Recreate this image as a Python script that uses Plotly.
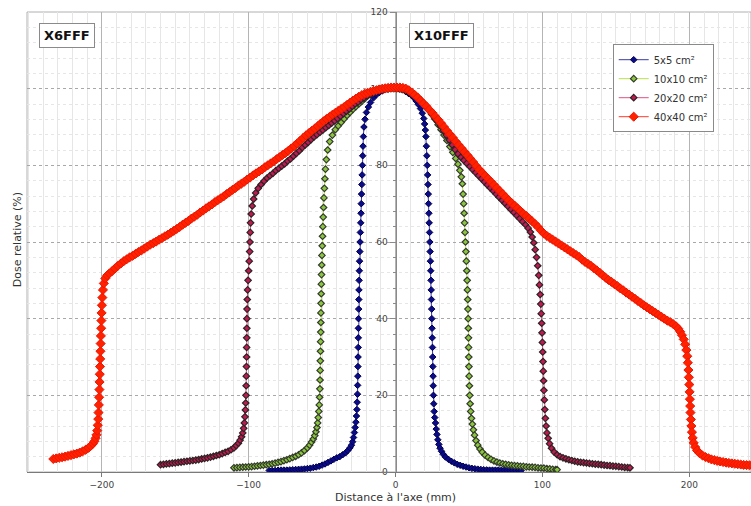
import plotly.graph_objects as go

# Off-axis dose profiles: (distance to axis in mm, relative dose in %)
PROFILE_5X5 = [
    (-86, 0.4), (-84, 0.4), (-82, 0.4), (-80, 0.45), (-78, 0.5), (-76, 0.5), (-74, 0.5), (-72, 0.55),
    (-70, 0.6), (-68, 0.65), (-66, 0.7), (-64, 0.75), (-62, 0.8), (-60, 0.9), (-58, 1.0), (-56, 1.15),
    (-54, 1.3), (-52, 1.5), (-50, 1.8), (-48, 2.1), (-46, 2.5), (-44, 2.9), (-42, 3.3), (-40, 3.7),
    (-38, 4.0), (-36, 4.5), (-34, 5.0), (-32.5, 5.6), (-31, 6.3), (-30, 7.0), (-29.2, 7.9), (-28.6, 9.0),
    (-28.0, 10.3), (-27.5, 11.6), (-27.0, 13.0), (-26.6, 14.6), (-26.3, 16.3), (-26.1, 18.2),
    (-25.9, 20.3), (-25.8, 22.6), (-25.7, 25), (-25.6, 27.5), (-25.5, 30), (-25.4, 32.5),
    (-25.35, 35), (-25.3, 37.5), (-25.2, 40), (-25.1, 42.5), (-25.0, 45), (-24.9, 47.5), (-24.8, 50),
    (-24.65, 52.5), (-24.5, 55), (-24.3, 57.5), (-24.15, 60), (-23.95, 62.5), (-23.7, 65),
    (-23.5, 67.5), (-23.35, 70), (-23.15, 72.5), (-22.95, 75), (-22.75, 77.5), (-22.55, 80),
    (-22.35, 82.5), (-22.15, 85), (-21.9, 87.5), (-21.5, 90), (-20.8, 92), (-19.8, 93.8),
    (-18.5, 95.2), (-17, 96.4), (-15, 97.6), (-13, 98.4), (-11, 99), (-9, 99.4), (-7, 99.7),
    (-5, 99.9), (-3, 100), (-1, 100), (1, 100), (3, 99.9), (5, 99.7), (7, 99.2), (9, 98.7),
    (11, 98.2), (12.5, 97.6), (14, 96.8), (15.5, 95.9), (17, 94.8), (18.2, 93.6), (19.2, 92.2),
    (19.8, 90.8), (20.3, 89.2), (20.7, 87.5), (21.0, 85), (21.3, 82.5), (21.6, 80), (21.85, 77.5),
    (22.1, 75), (22.3, 72.5), (22.5, 70), (22.7, 67.5), (22.9, 65), (23.15, 62.5), (23.35, 60),
    (23.55, 57.5), (23.75, 55), (23.95, 52.5), (24.15, 50), (24.3, 47.5), (24.45, 45), (24.6, 42.5),
    (24.7, 40), (24.85, 37.5), (25.0, 35), (25.15, 32.5), (25.3, 30), (25.4, 27.5), (25.55, 25),
    (25.65, 22.5), (25.8, 20), (26.0, 17.8), (26.3, 15.8), (26.7, 14.2), (27.2, 12.8), (27.7, 11.2),
    (28.2, 9.8), (28.8, 8.4), (29.5, 7.2), (30.3, 6.2), (31.3, 5.4), (32.5, 4.6), (34, 3.9),
    (36, 3.3), (38, 2.8), (40, 2.4), (42, 2.0), (44, 1.75), (46, 1.5), (48, 1.3), (50, 1.1),
    (52, 0.95), (54, 0.85), (56, 0.75), (58, 0.68), (60, 0.6), (62, 0.55), (64, 0.5), (66, 0.5),
    (68, 0.5), (70, 0.5), (72, 0.45), (74, 0.45), (76, 0.4), (78, 0.4), (80, 0.4), (82, 0.4),
    (84, 0.4), (85.5, 0.4),
]

PROFILE_10X10 = [
    (-110, 1.1), (-108, 1.15), (-106, 1.2), (-104, 1.25), (-102, 1.3), (-100, 1.35), (-98, 1.4),
    (-96, 1.5), (-94, 1.6), (-92, 1.7), (-90, 1.8), (-88, 1.9), (-86, 2.0), (-84, 2.15), (-82, 2.3),
    (-80, 2.5), (-78, 2.7), (-76, 2.95), (-74, 3.2), (-72, 3.5), (-70, 3.8), (-68, 4.1), (-66, 4.5),
    (-64, 5.0), (-62, 5.6), (-60, 6.3), (-58.5, 7.0), (-57.2, 7.8), (-56, 8.6), (-55, 9.5),
    (-54.2, 10.5), (-53.5, 11.6), (-53, 12.8), (-52.6, 14.2), (-52.2, 15.8), (-51.9, 17.5),
    (-51.7, 19.5), (-51.5, 21.7), (-51.4, 24), (-51.3, 26.5), (-51.2, 29), (-51.1, 31.5),
    (-51.0, 34), (-50.9, 36.5), (-50.85, 39), (-50.8, 41.5), (-50.7, 44), (-50.6, 46.5),
    (-50.5, 49), (-50.4, 51.5), (-50.25, 54), (-50.1, 56.5), (-49.9, 59), (-49.7, 61.5),
    (-49.5, 64), (-49.25, 66.5), (-49.0, 69), (-48.75, 71.5), (-48.45, 74), (-48.1, 76.5),
    (-47.7, 79), (-47.1, 81.5), (-46.2, 84), (-44.8, 86.2), (-43, 87.9), (-41, 89.3), (-39, 90.3),
    (-37, 91.2), (-35, 92.1), (-33, 93), (-31, 93.8), (-29, 94.6), (-27, 95.3), (-25, 96),
    (-23, 96.7), (-21, 97.4), (-19, 98.1), (-17, 98.6), (-15, 99), (-13, 99.4), (-11, 99.7),
    (-9, 99.9), (-7, 100), (-5, 100.1), (-3, 100.1), (-1, 100.1), (1, 100.1), (3, 100), (5, 99.9),
    (7, 99.6), (9, 99.3), (11, 98.9), (13, 98.4), (15, 97.8), (17, 97.1), (19, 96.3), (21, 95.4),
    (23, 94.4), (25, 93.2), (27, 92), (29, 90.6), (31, 89.3), (33, 87.9), (35, 86.5), (37, 84.9),
    (39, 83.4), (41, 81.8), (42.5, 80.3), (43.8, 78.7), (44.8, 77), (45.5, 75.2), (46, 72.5),
    (46.4, 70), (46.7, 67.5), (47, 65), (47.3, 62.5), (47.6, 60), (47.9, 57.5), (48.2, 55),
    (48.5, 52.5), (48.75, 50), (48.95, 47.5), (49.15, 45), (49.3, 42.5), (49.45, 40), (49.55, 37.5),
    (49.65, 35), (49.75, 32.5), (49.85, 30), (49.95, 27.5), (50.1, 25), (50.3, 22.5), (50.5, 20),
    (50.8, 17.8), (51.2, 15.8), (51.7, 14), (52.3, 12.5), (53, 11), (53.8, 9.6), (54.8, 8.2),
    (56, 7), (57.5, 6), (59, 5.2), (61, 4.4), (63, 3.8), (65, 3.3), (67, 2.9), (69, 2.6),
    (71, 2.35), (73, 2.15), (75, 2.0), (77, 1.85), (79, 1.75), (81, 1.65), (83, 1.6), (85, 1.5),
    (87, 1.45), (89, 1.35), (91, 1.3), (93, 1.25), (95, 1.2), (97, 1.1), (99, 1.05), (101, 1.0),
    (103, 0.9), (105, 0.8), (107, 0.7), (109, 0.65), (110, 0.6),
]

PROFILE_20X20 = [
    (-160, 1.9), (-158, 2.0), (-156, 2.1), (-154, 2.2), (-152, 2.3), (-150, 2.4), (-148, 2.5),
    (-146, 2.6), (-144, 2.7), (-142, 2.8), (-140, 2.9), (-138, 3.0), (-136, 3.1), (-134, 3.25),
    (-132, 3.4), (-130, 3.55), (-128, 3.7), (-126, 3.9), (-124, 4.1), (-122, 4.3), (-120, 4.5),
    (-118, 4.8), (-116, 5.1), (-114, 5.4), (-112, 5.8), (-110, 6.3), (-108.5, 6.9), (-107, 7.5),
    (-105.8, 8.3), (-104.8, 9.2), (-104, 10.2), (-103.4, 11.4), (-102.9, 12.8), (-102.5, 14.4),
    (-102.2, 16.2), (-102, 18), (-101.8, 20), (-101.7, 22.5), (-101.6, 25), (-101.5, 27.5),
    (-101.4, 30), (-101.35, 32.5), (-101.3, 35), (-101.25, 37.5), (-101.2, 40), (-101.1, 42.5),
    (-100.95, 45), (-100.7, 47.5), (-100.4, 50), (-100.0, 52.5), (-99.6, 55), (-99.3, 57.5),
    (-99.1, 60), (-98.9, 62.5), (-98.7, 65), (-98.3, 67.3), (-97.6, 69.4), (-96.6, 71.2),
    (-95.2, 72.8), (-93.5, 74), (-91.5, 75), (-89.5, 75.9), (-87.5, 76.7), (-85.5, 77.3),
    (-83.5, 77.9), (-81.5, 78.6), (-79.5, 79.2), (-77.5, 79.8), (-75.5, 80.4), (-73.5, 81.1),
    (-71.5, 81.7), (-69.5, 82.4), (-67.5, 83.1), (-65.5, 83.8), (-63.5, 84.6), (-61.5, 85.3),
    (-59.5, 86), (-57.5, 86.7), (-55.5, 87.4), (-53.5, 88), (-51.5, 88.6), (-49.5, 89.2),
    (-47.5, 89.8), (-45.5, 90.4), (-43.5, 91), (-41.5, 91.6), (-39.5, 92.2), (-37.5, 92.8),
    (-35.5, 93.5), (-33.5, 94.1), (-31.5, 94.7), (-29.5, 95.4), (-27.5, 96), (-25.5, 96.5),
    (-23.5, 97.1), (-21.5, 97.6), (-19.5, 98.1), (-17.5, 98.5), (-15.5, 98.9), (-13.5, 99.2),
    (-11.5, 99.5), (-9.5, 99.7), (-7.5, 99.9), (-5.5, 100), (-3.5, 100.1), (-1.5, 100.1),
    (0.5, 100.1), (2.5, 100), (4.5, 99.8), (6.5, 99.6), (8.5, 99.2), (10.5, 98.8), (12.5, 98.2),
    (14.5, 97.6), (16.5, 96.9), (18.5, 96.1), (20.5, 95.3), (22.5, 94.4), (24.5, 93.4),
    (26.5, 92.4), (28.5, 91.4), (30.5, 90.3), (32.5, 89.1), (34.5, 87.9), (36.5, 86.6),
    (38.5, 85.3), (40.5, 84.1), (42.5, 83), (44.5, 82.1), (46.5, 81.3), (48.5, 80.5), (50.5, 79.7),
    (52.5, 78.9), (54.5, 78.1), (56.5, 77.3), (58.5, 76.5), (60.5, 75.7), (62.5, 74.9),
    (64.5, 74.1), (66.5, 73.3), (68.5, 72.5), (70.5, 71.7), (72.5, 70.9), (74.5, 70.1),
    (76.5, 69.3), (78.5, 68.5), (80.5, 67.7), (82.5, 66.9), (84.5, 66.1), (86.5, 65.3),
    (88.5, 64.5), (90.3, 63.6), (91.8, 62.6), (93, 61.3), (94.1, 59.8), (95.1, 58), (96, 56),
    (96.8, 53.8), (97.5, 51.3), (98, 48.8), (98.5, 46.3), (98.9, 43.8), (99.2, 41.3),
    (99.5, 38.8), (99.75, 36.3), (100, 33.8), (100.2, 31.3), (100.4, 28.8), (100.6, 26.3),
    (100.8, 23.8), (101, 21.3), (101.3, 18.8), (101.6, 16.3), (102, 14), (102.5, 12),
    (103.1, 10.2), (103.9, 8.8), (104.9, 7.4), (106.2, 6.2), (108, 5.2), (110, 4.5), (112, 4.0),
    (114, 3.7), (116, 3.45), (118, 3.2), (120, 3.0), (122, 2.8), (124, 2.65), (126, 2.55),
    (128, 2.45), (130, 2.35), (132, 2.25), (134, 2.15), (136, 2.05), (138, 2.0), (140, 1.9),
    (142, 1.8), (144, 1.7), (146, 1.65), (148, 1.55), (150, 1.5), (152, 1.4), (154, 1.3),
    (156, 1.2), (158, 1.15), (159.6, 1.1),
]

PROFILE_40X40 = [
    (-233, 3.4), (-231, 3.55), (-229, 3.7), (-227, 3.85), (-225, 4.0), (-223, 4.2), (-221, 4.4),
    (-219, 4.6), (-217, 4.8), (-215, 5.05), (-213, 5.4), (-211, 5.8), (-209, 6.3), (-207.5, 6.8),
    (-206, 7.4), (-205, 8.0), (-204.2, 8.8), (-203.6, 9.7), (-203.1, 10.8), (-202.7, 12.2),
    (-202.4, 13.8), (-202.2, 15.5), (-202, 17.5), (-201.8, 19.5), (-201.6, 21.5), (-201.5, 23.5),
    (-201.35, 25.5), (-201.2, 27.5), (-201.05, 29.5), (-200.9, 31.5), (-200.75, 33.5),
    (-200.6, 35.5), (-200.4, 37.5), (-200.25, 39.5), (-200.1, 41.5), (-199.9, 43.5),
    (-199.6, 45.5), (-199.2, 47.5), (-198.6, 49.2), (-197.6, 50.5), (-196.3, 51.3), (-194.8, 51.8),
    (-193, 52.4), (-191, 53.1), (-189, 53.8), (-187, 54.4), (-185, 55), (-183, 55.5), (-181, 56),
    (-179, 56.4), (-177, 56.9), (-175, 57.4), (-173, 57.8), (-171, 58.3), (-169, 58.8), (-167, 59.3),
    (-165, 59.7), (-163, 60.1), (-161, 60.6), (-159, 61), (-157, 61.5), (-155, 61.9), (-153, 62.4),
    (-151, 62.9), (-149, 63.4), (-147, 63.9), (-145, 64.5), (-143, 65), (-141, 65.5), (-139, 66.1),
    (-137, 66.6), (-135, 67.1), (-133, 67.7), (-131, 68.2), (-129, 68.8), (-127, 69.3),
    (-125, 69.8), (-123, 70.4), (-121, 70.9), (-119, 71.4), (-117, 71.9), (-115, 72.5), (-113, 73),
    (-111, 73.6), (-109, 74.1), (-107, 74.7), (-105, 75.2), (-103, 75.7), (-101, 76.3), (-99, 76.8),
    (-97, 77.4), (-95, 77.9), (-93, 78.4), (-91, 78.9), (-89, 79.5), (-87, 80), (-85, 80.5),
    (-83, 81), (-81, 81.6), (-79, 82.1), (-77, 82.7), (-75, 83.2), (-73, 83.8), (-71, 84.4),
    (-69, 85), (-67, 85.7), (-65, 86.4), (-63, 87.1), (-61, 87.8), (-59, 88.4), (-57, 89),
    (-55, 89.6), (-53, 90.2), (-51, 90.9), (-49, 91.5), (-47, 92.1), (-45, 92.6), (-43, 93.2),
    (-41, 93.7), (-39, 94.2), (-37, 94.7), (-35, 95.2), (-33, 95.8), (-31, 96.3), (-29, 96.9),
    (-27, 97.4), (-25, 97.9), (-23, 98.3), (-21, 98.7), (-19, 98.9), (-17, 99.2), (-15, 99.4),
    (-13, 99.6), (-11, 99.8), (-9, 100), (-7, 100.1), (-5, 100.2), (-3, 100.3), (-1, 100.3),
    (1, 100.3), (3, 100.3), (5, 100.2), (7, 100), (9, 99.6), (11, 99), (13, 98.4), (15, 97.7),
    (17, 96.9), (19, 96.1), (21, 95.4), (23, 94.5), (25, 93.7), (27, 92.8), (29, 91.9), (31, 91),
    (33, 90), (35, 89), (37, 88.1), (39, 87.2), (41, 86.2), (43, 85.3), (45, 84.4), (47, 83.5),
    (49, 82.6), (51, 81.7), (53, 80.8), (55, 79.8), (57, 78.9), (59, 78.1), (61, 77.3), (63, 76.5),
    (65, 75.7), (67, 74.9), (69, 74.1), (71, 73.3), (73, 72.5), (75, 71.7), (77, 70.9), (79, 70.2),
    (81, 69.5), (83, 68.8), (85, 68.1), (87, 67.4), (89, 66.8), (91, 66.1), (93, 65.4), (95, 64.7),
    (97, 63.9), (99, 63), (101, 62.2), (103, 61.6), (105, 61.1), (107, 60.6), (109, 60.1),
    (111, 59.6), (113, 59.1), (115, 58.6), (117, 58.1), (119, 57.6), (121, 57.1), (123, 56.6),
    (125, 56.1), (127, 55.4), (129, 54.8), (131, 54.3), (133, 53.8), (135, 53.2), (137, 52.6),
    (139, 52), (141, 51.3), (143, 50.7), (145, 50.1), (147, 49.6), (149, 49), (151, 48.5),
    (153, 47.9), (155, 47.4), (157, 46.8), (159, 46.3), (161, 45.7), (163, 45.2), (165, 44.6),
    (167, 44.1), (169, 43.5), (171, 43), (173, 42.5), (175, 42), (177, 41.5), (179, 41), (181, 40.5),
    (183, 40), (185, 39.5), (187, 39.1), (189, 38.6), (191, 38), (192.5, 37.4), (193.8, 36.6),
    (195, 35.7), (196.2, 34.6), (197.2, 33.3), (198, 31.8), (198.6, 30.2), (199, 28.5),
    (199.4, 26.6), (199.7, 24.7), (200, 22.8), (200.2, 20.9), (200.4, 19), (200.6, 17.2),
    (200.8, 15.5), (201.1, 13.7), (201.4, 12), (201.8, 10.4), (202.3, 8.9), (203, 7.6), (204, 6.5),
    (205.3, 5.6), (207, 4.9), (209, 4.3), (211, 3.9), (213, 3.6), (215, 3.3), (217, 3.1),
    (219, 2.9), (221, 2.75), (223, 2.6), (225, 2.45), (227, 2.35), (229, 2.25), (231, 2.15),
    (233, 2.05), (235, 1.95), (237, 1.85), (239, 1.8), (241, 1.75), (243, 1.7),
]

FIELD_LABELS = ["5x5 cm²", "10x10 cm²", "20x20 cm²", "40x40 cm²"]
X_TICKS = [-200, -100, 0, 100, 200]
Y_TICKS = [0, 20, 40, 60, 80, 100, 120]

FONT = "DejaVu Sans"

# line colour, marker fill, marker outline, outline width, marker size
STYLES = [
    ("#3a3aa8", "#0b0b8a", "#00004e", 1.0, 5),
    ("#b8e04a", "#8cc63e", "#333b2c", 1.2, 5),
    ("#e0507e", "#c01a52", "#2e2224", 1.2, 5),
    ("#ff3a2a", "#ff2200", "#f01400", 1.0, 7),
]

fig = go.Figure()
for profile, name, (lc, fc, ec, ew, ms) in zip(
        [PROFILE_5X5, PROFILE_10X10, PROFILE_20X20, PROFILE_40X40], FIELD_LABELS, STYLES):
    fig.add_trace(go.Scatter(
        x=[p[0] for p in profile], y=[p[1] for p in profile],
        name=name, mode="lines+markers",
        line=dict(color=lc, width=1),
        marker=dict(symbol="diamond", size=ms, color=fc, line=dict(color=ec, width=ew)),
    ))

fig.update_layout(
    width=751, height=506,
    margin=dict(l=27, r=0, t=12, b=34),
    paper_bgcolor="white", plot_bgcolor="white",
    font=dict(family=FONT, color="#444"),
    showlegend=True,
    legend=dict(
        x=0.809, y=0.93, xanchor="left", yanchor="top",
        bgcolor="white", bordercolor="#8a8a8a", borderwidth=1,
        font=dict(family=FONT, size=10, color="#333"),
        itemwidth=30,
    ),
    xaxis=dict(
        range=[-250.9, 242.0],
        tickvals=X_TICKS,
        showline=True, linecolor="#7a7a7a", linewidth=1,
        ticks="outside", ticklen=4, tickcolor="#7a7a7a",
        tickfont=dict(size=9, color="#444"),
        showgrid=True, gridcolor="#b4b4b4", gridwidth=1,
        minor=dict(dtick=10, showgrid=True, gridcolor="#e6e6e6", gridwidth=1),
        zeroline=False,
    ),
    yaxis=dict(
        range=[0, 120],
        tickvals=Y_TICKS,
        anchor="free", position=0.509,
        showline=True, linecolor="#8a8a8a", linewidth=1,
        ticks="outside", ticklen=6, tickcolor="#8a8a8a",
        tickfont=dict(size=9, color="#444"),
        showgrid=True, gridcolor="#a8a8a8", gridwidth=1, griddash="dot",
        minor=dict(dtick=4, showgrid=True, gridcolor="#e6e6e6", gridwidth=1,
                   ticks="outside", ticklen=3, tickcolor="#8a8a8a"),
        zeroline=False,
        layer="below traces",
    ),
    shapes=[dict(type="rect", xref="paper", yref="paper", x0=0, y0=0, x1=1, y1=1,
                 line=dict(color="#b0b0b0", width=1), layer="below")],
    annotations=[
        dict(text="<b>X6FFF</b>", xref="paper", yref="paper", x=0.0552, y=0.9487,
             xanchor="center", yanchor="middle",
             showarrow=False, font=dict(family=FONT, size=13, color="#111"),
             bgcolor="white", bordercolor="#8a8a8a", borderwidth=1, borderpad=4),
        dict(text="<b>X10FFF</b>", xref="paper", yref="paper", x=0.5725, y=0.9487,
             xanchor="center", yanchor="middle",
             showarrow=False, font=dict(family=FONT, size=13, color="#111"),
             bgcolor="white", bordercolor="#8a8a8a", borderwidth=1, borderpad=4),
        dict(text="Distance à l'axe (mm)", xref="x", yref="paper", x=0, y=0,
             xanchor="center", yanchor="top", yshift=-17, showarrow=False,
             font=dict(family=FONT, size=11, color="#333")),
        dict(text="Dose relative (%)", xref="paper", yref="paper", x=-0.0138, y=0.504,
             xanchor="center", yanchor="middle",
             textangle=-90, showarrow=False,
             font=dict(family=FONT, size=11, color="#333")),
    ],
)

fig.write_html("out.html")
